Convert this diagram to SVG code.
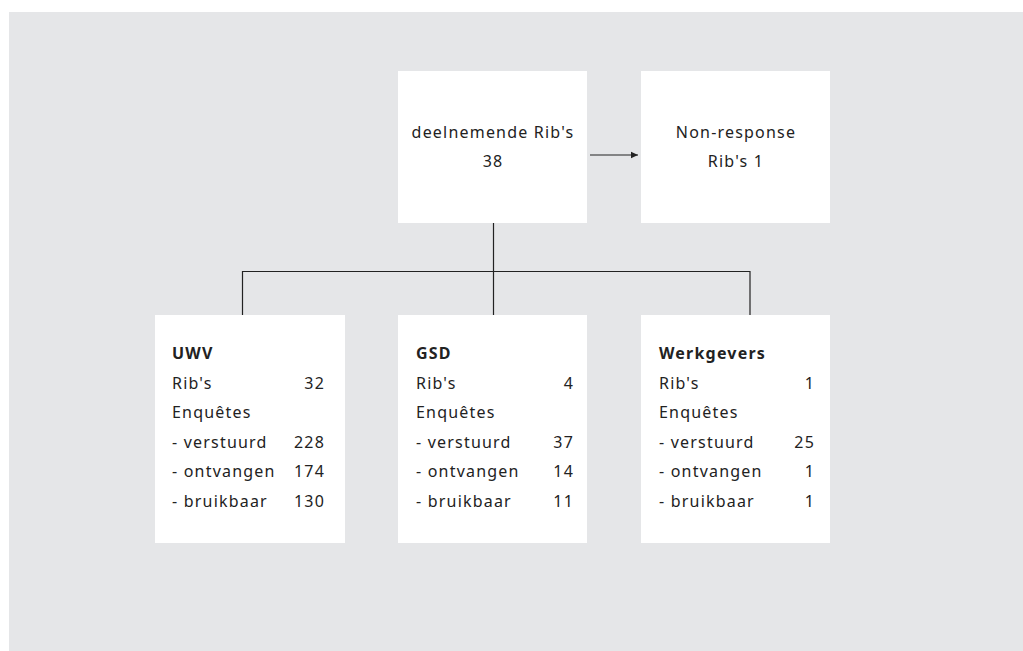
<svg xmlns="http://www.w3.org/2000/svg" width="1023" height="651" viewBox="0 0 1023 651">
<style>
.box{fill:#ffffff}
.t{font-family:"Noto Sans","Open Sans",sans-serif;font-size:16px;fill:#222222;letter-spacing:1.2px}
.b{font-weight:bold}
.m{text-anchor:middle}
.r{text-anchor:end}
.ln{stroke:#222222;stroke-width:1.2;fill:none}
</style>
<defs>
<marker id="ah" markerWidth="8" markerHeight="8" refX="7" refY="4" orient="auto" markerUnits="userSpaceOnUse">
<path d="M0,0.8 L7,4 L0,7.2 Z" fill="#222222"/>
</marker>
</defs>
<rect width="1023" height="651" fill="#ffffff"/>
<rect x="9" y="12" width="1014" height="639" fill="#e5e6e8"/>
<g id="connectors">
<path class="ln" d="M493.5,223 V271.5 M242.5,315 V271.5 H750 V315 M493.5,271.5 V315"/>
<path class="ln" d="M590,155 H638" marker-end="url(#ah)"/>
</g>
<g id="deelnemende">
<rect class="box" x="398" y="71" width="189" height="152"/>
<text class="t m" x="493" y="138">deelnemende Rib's</text>
<text class="t m" x="493" y="167">38</text>
</g>
<g id="nonresponse">
<rect class="box" x="641" y="71" width="189" height="152"/>
<text class="t m" x="736" y="138">Non-response</text>
<text class="t m" x="736" y="167">Rib's 1</text>
</g>
<g id="uwv">
<rect class="box" x="155" y="315" width="190" height="228"/>
<text class="t b" x="172" y="359">UWV</text>
<text class="t" x="172" y="389">Rib's</text>
<text class="t r" x="325" y="389">32</text>
<text class="t" x="172" y="418">Enquêtes</text>
<text class="t" x="172" y="448">- verstuurd</text>
<text class="t r" x="325" y="448">228</text>
<text class="t" x="172" y="477">- ontvangen</text>
<text class="t r" x="325" y="477">174</text>
<text class="t" x="172" y="507">- bruikbaar</text>
<text class="t r" x="325" y="507">130</text>
</g>
<g id="gsd">
<rect class="box" x="398" y="315" width="189" height="228"/>
<text class="t b" x="416" y="359">GSD</text>
<text class="t" x="416" y="389">Rib's</text>
<text class="t r" x="574" y="389">4</text>
<text class="t" x="416" y="418">Enquêtes</text>
<text class="t" x="416" y="448">- verstuurd</text>
<text class="t r" x="574" y="448">37</text>
<text class="t" x="416" y="477">- ontvangen</text>
<text class="t r" x="574" y="477">14</text>
<text class="t" x="416" y="507">- bruikbaar</text>
<text class="t r" x="574" y="507">11</text>
</g>
<g id="werkgevers">
<rect class="box" x="641" y="315" width="189" height="228"/>
<text class="t b" x="659" y="359">Werkgevers</text>
<text class="t" x="659" y="389">Rib's</text>
<text class="t r" x="815" y="389">1</text>
<text class="t" x="659" y="418">Enquêtes</text>
<text class="t" x="659" y="448">- verstuurd</text>
<text class="t r" x="815" y="448">25</text>
<text class="t" x="659" y="477">- ontvangen</text>
<text class="t r" x="815" y="477">1</text>
<text class="t" x="659" y="507">- bruikbaar</text>
<text class="t r" x="815" y="507">1</text>
</g>
</svg>
